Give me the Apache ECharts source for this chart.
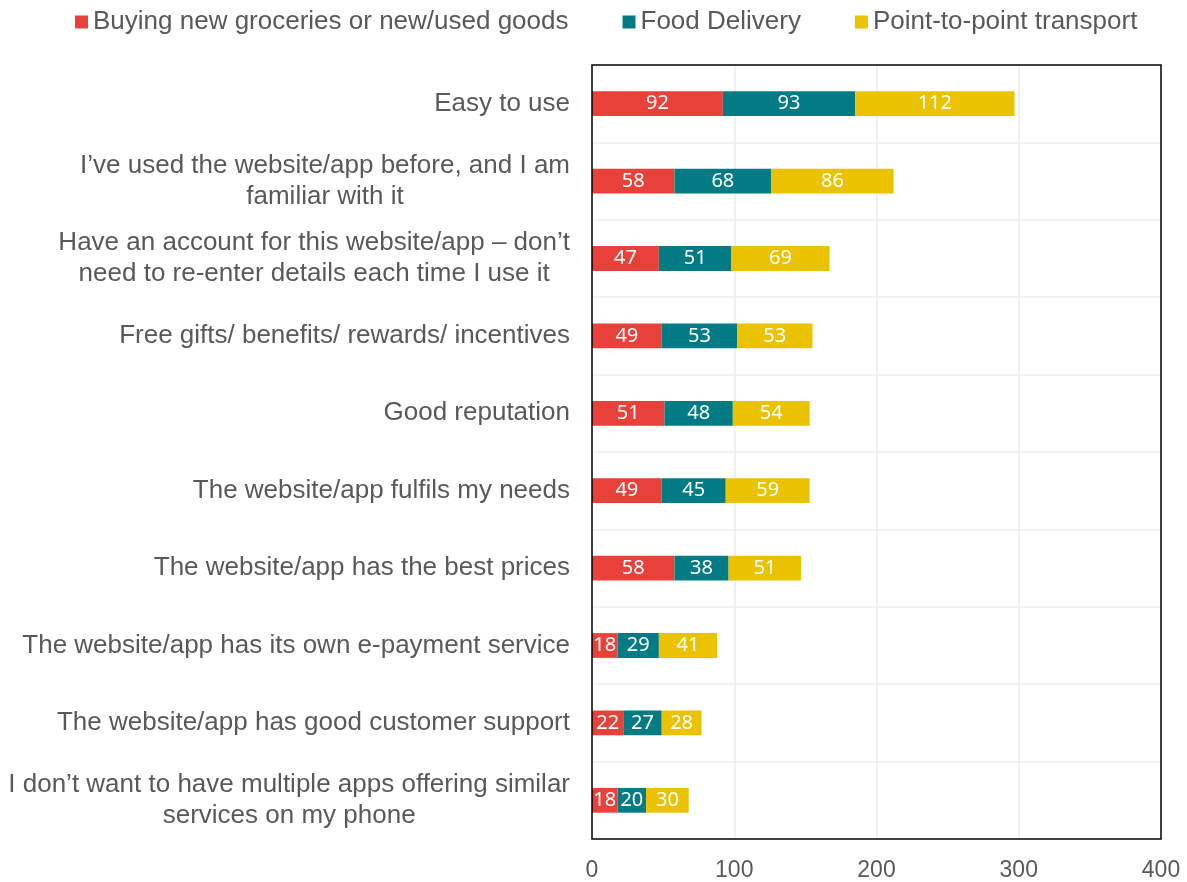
<!DOCTYPE html>
<html>
<head>
<meta charset="utf-8">
<script src="https://cdn.jsdelivr.net/npm/echarts@6/dist/echarts.min.js"></script>
<style>
  html, body { margin: 0; padding: 0; background: #fff; }
  #chart { width: 1187px; height: 882px; }
</style>
</head>
<body>
<div id="chart"></div>
<script>
// categories, top to bottom
var categories = [
  'Easy to use',
  'I\u2019ve used the website/app before, and I am\nfamiliar with it',
  'Have an account for this website/app \u2013 don\u2019t\nneed to re-enter details each time I use it',
  'Free gifts/ benefits/ rewards/ incentives',
  'Good reputation',
  'The website/app fulfils my needs',
  'The website/app has the best prices',
  'The website/app has its own e-payment service',
  'The website/app has good customer support',
  'I don\u2019t want to have multiple apps offering similar\nservices on my phone'
];
var groceries = [92, 58, 47, 49, 51, 49, 58, 18, 22, 18];
var foodDelivery = [93, 68, 51, 53, 48, 45, 38, 29, 27, 20];
var transport = [112, 86, 69, 53, 54, 59, 51, 41, 28, 30];
var xTicks = [0, 100, 200, 300, 400];

var chart = echarts.init(document.getElementById('chart'));

function mkSeries(name, data, color) {
  return {
    name: name,
    type: 'bar',
    stack: 'total',
    data: data,
    barWidth: '32%',
    itemStyle: {color: color},
    label: {
      show: true,
      position: 'inside',
      color: '#fff',
      fontFamily: 'Noto Sans',
      fontSize: 20
    }
  };
}

chart.setOption({
  animation: false,
  textStyle: {fontFamily: 'Liberation Sans'},
  legend: {
    left: 70,
    top: 4,
    itemWidth: 13,
    itemHeight: 13,
    itemGap: 54,
    icon: 'rect',
    textStyle: {color: '#595959', fontSize: 26, fontFamily: 'Liberation Sans'},
    data: ['Buying new groceries or new/used goods', 'Food Delivery', 'Point-to-point transport']
  },
  grid: {
    left: 592,
    right: 26,
    top: 65,
    bottom: 42,
    show: true,
    borderColor: '#000',
    borderWidth: 1.5,
    z: 5,
    containLabel: false
  },
  xAxis: {
    type: 'value',
    min: xTicks[0],
    max: xTicks[xTicks.length - 1],
    interval: 100,
    axisLine: {show: false},
    axisTick: {show: false},
    axisLabel: {color: '#595959', fontSize: 23, margin: 20, fontFamily: 'Liberation Sans'},
    splitLine: {show: true, showMinLine: false, showMaxLine: false, lineStyle: {color: '#ececec', width: 1.5}}
  },
  yAxis: {
    type: 'category',
    inverse: true,
    data: categories,
    axisLine: {show: false},
    axisTick: {show: false},
    axisLabel: {
      color: '#595959',
      fontSize: 26,
      lineHeight: 31,
      margin: 22,
      align: 'right',
      fontFamily: 'Liberation Sans',
      formatter: function (v) {
        return v.split('\n').map(function (s) { return '{c|' + s + '}'; }).join('\n');
      },
      rich: {
        c: {align: 'center', fontSize: 26, lineHeight: 31, color: '#595959', fontFamily: 'Liberation Sans'}
      }
    },
    splitLine: {show: true, showMinLine: false, showMaxLine: false, lineStyle: {color: '#ececec', width: 1.5}}
  },
  series: [
    mkSeries('Buying new groceries or new/used goods', groceries, '#E8413A'),
    mkSeries('Food Delivery', foodDelivery, '#027B85'),
    mkSeries('Point-to-point transport', transport, '#EBC200')
  ]
});
</script>
</body>
</html>
